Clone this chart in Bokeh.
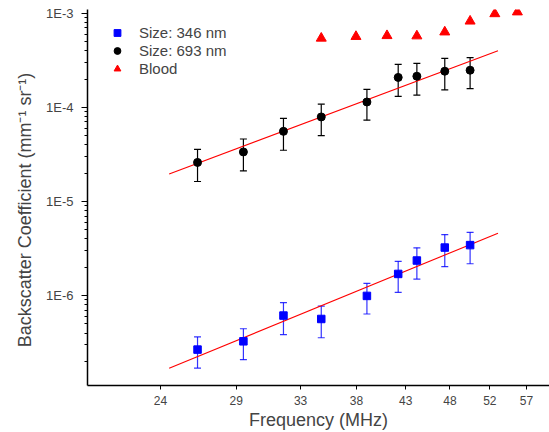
from bokeh.plotting import figure
from bokeh.models import (ColumnDataSource, Whisker, TeeHead, FixedTicker,
                          CustomJSTickFormatter, Legend, LegendItem, Range1d)
from bokeh.embed import file_html
from bokeh.resources import INLINE

# ---- data ----
freq = [26.2, 29.2, 32.1, 35.1, 39.1, 42.1, 44.0, 47.0, 49.9]
bsc_346 = [2.67e-7, 3.27e-7, 6.14e-7, 5.65e-7, 9.93e-7, 1.70e-6, 2.36e-6, 3.24e-6, 3.44e-6]
err_346 = [0.97e-7, 1.18e-7, 2.28e-7, 2.08e-7, 3.55e-7, 0.615e-6, 0.86e-6, 1.21e-6, 1.26e-6]
bsc_693 = [2.60e-5, 3.36e-5, 5.56e-5, 7.91e-5, 1.14e-4, 2.08e-4, 2.14e-4, 2.42e-4, 2.48e-4]
err_693 = [0.97e-5, 1.25e-5, 2.06e-5, 2.90e-5, 0.41e-4, 0.775e-4, 0.79e-4, 0.89e-4, 0.90e-4]
freq_blood = [35.1, 38.1, 41.0, 44.0, 47.0, 49.9, 52.9, 55.8]
bsc_blood = [5.42e-4, 5.65e-4, 5.77e-4, 5.73e-4, 6.31e-4, 8.23e-4, 9.86e-4, 1.03e-3]
fit_freq = [24.5, 53.3]
fit_346 = [1.69e-7, 4.61e-6]
fit_693 = [1.96e-5, 4.0e-4]

x_ticks = [24, 28.714, 33.429, 38.143, 42.857, 47.571, 52.286, 57]
x_tick_labels = ["24", "29", "33", "38", "43", "48", "52", "57"]
y_ticks = [1e-6, 1e-5, 1e-4, 1e-3]
y_tick_labels = ["1E-6", "1E-5", "1E-4", "1E-3"]

FONT = "Liberation Sans"

p = figure(width=549, height=432, x_axis_type="log", y_axis_type="log",
           x_range=Range1d(20.2, 60.2), y_range=Range1d(1.11e-7, 1.095e-3),
           output_backend="svg", toolbar_location=None,
           min_border_left=87, min_border_right=0, min_border_top=9,
           min_border_bottom=47)
p.outline_line_color = None
p.grid.visible = False
p.background_fill_color = "white"
p.border_fill_color = "white"

# fit lines
p.line(fit_freq, fit_693, line_color="#ff0000", line_width=1.1)
p.line(fit_freq, fit_346, line_color="#ff0000", line_width=1.1)

# error bars
src346 = ColumnDataSource(dict(x=freq, y=bsc_346,
                               upper=[v + e for v, e in zip(bsc_346, err_346)],
                               lower=[v - e for v, e in zip(bsc_346, err_346)]))
src693 = ColumnDataSource(dict(x=freq, y=bsc_693,
                               upper=[v + e for v, e in zip(bsc_693, err_693)],
                               lower=[v - e for v, e in zip(bsc_693, err_693)]))
for src, col, alpha in ((src346, "#0000ff", 0.8), (src693, "black", 1.0)):
    w = Whisker(source=src, base="x", upper="upper", lower="lower",
                dimension="height", line_color=col, line_width=1.2, line_alpha=alpha,
                upper_head=TeeHead(size=7, line_color=col, line_width=1.2, line_alpha=alpha),
                lower_head=TeeHead(size=7, line_color=col, line_width=1.2, line_alpha=alpha))
    p.add_layout(w)

r346 = p.scatter("x", "y", source=src346, marker="square", size=7.5,
                 fill_color="#0000ff", line_color="#0000ff")
r693 = p.scatter("x", "y", source=src693, marker="circle", size=8,
                 fill_color="black", line_color="black")
rblood = p.scatter(freq_blood, bsc_blood, marker="triangle", size=10,
                   fill_color="#ff0000", line_color="#ff0000")

# axes
FMT_CODE = """
let best = 0, bd = Infinity;
for (let i = 0; i < tvals.length; i++) {
  const d = Math.abs(Math.log(tick) - Math.log(tvals[i]));
  if (d < bd) { bd = d; best = i; }
}
return tlabels[best];
"""
xfmt = CustomJSTickFormatter(args=dict(tvals=x_ticks, tlabels=x_tick_labels), code=FMT_CODE)
yfmt = CustomJSTickFormatter(args=dict(tvals=y_ticks, tlabels=y_tick_labels), code=FMT_CODE)

y_minor = [m * 10.0 ** k for k in range(-7, -3) for m in range(2, 10)]

xa = p.xaxis[0]
xa.ticker = FixedTicker(ticks=x_ticks, minor_ticks=[])
xa.formatter = xfmt
xa.axis_label = "Frequency (MHz)"
xa.axis_label_text_font = FONT
xa.axis_label_text_font_size = "18px"
xa.axis_label_text_font_style = "normal"
xa.axis_label_standoff = 2
xa.major_label_text_font = FONT
xa.major_label_text_font_size = "12px"
xa.major_label_standoff = 6
xa.major_tick_in = 0
xa.major_tick_out = 4
xa.minor_tick_in = 0
xa.minor_tick_out = 0
xa.axis_line_width = 1.5
xa.axis_line_color = "black"
xa.major_tick_line_color = "black"

ya = p.yaxis[0]
ya.ticker = FixedTicker(ticks=y_ticks, minor_ticks=y_minor)
ya.formatter = yfmt
ya.axis_label = "Backscatter Coefficient (mm\u207b\u00b9 sr\u207b\u00b9)" + "\u00a0" * 5
ya.axis_label_text_font = FONT
ya.axis_label_text_font_size = "18px"
ya.axis_label_text_font_style = "normal"
ya.axis_label_standoff = 8
ya.major_label_text_font = FONT
ya.major_label_text_font_size = "13px"
ya.major_label_standoff = 8
ya.major_tick_in = 0
ya.major_tick_out = 6
ya.minor_tick_in = 0
ya.minor_tick_out = 3
ya.axis_line_width = 1.5
ya.axis_line_color = "black"
ya.major_tick_line_color = "black"
ya.minor_tick_line_color = "black"

legend = Legend(items=[LegendItem(label="Size: 346 nm", renderers=[r346]),
                       LegendItem(label="Size: 693 nm", renderers=[r693]),
                       LegendItem(label="Blood", renderers=[rblood])],
                location=(20, 308), border_line_color=None,
                background_fill_alpha=0, padding=10, margin=0, spacing=1,
                glyph_width=20, glyph_height=17, label_height=17,
                label_standoff=12, label_text_font=FONT,
                label_text_font_size="15px")
p.add_layout(legend, "center")

with open("out.html", "w") as f:
    f.write(file_html(p, INLINE))
